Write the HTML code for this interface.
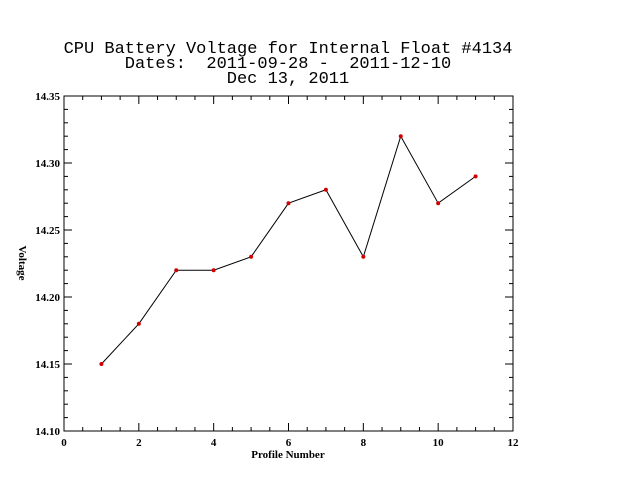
<!DOCTYPE html>
<html><head><meta charset="utf-8"><style>body{margin:0;background:#fff}svg{display:block}</style></head>
<body>
<svg id="chart" width="640" height="480" xmlns="http://www.w3.org/2000/svg" font-family="Liberation Mono, monospace">
<rect width="640" height="480" fill="#fff"/>
<text x="288" y="53" font-size="17" text-anchor="middle">CPU Battery Voltage for Internal Float #4134</text>
<text x="288" y="68" font-size="17" text-anchor="middle" xml:space="preserve">Dates:  2011-09-28 -  2011-12-10</text>
<text x="288" y="83" font-size="17" text-anchor="middle">Dec 13, 2011</text>
<text x="288" y="458" font-size="11" font-weight="bold" font-family="Liberation Serif, serif" text-anchor="middle">Profile Number</text>
<text x="0" y="0" font-size="11" font-weight="bold" font-family="Liberation Serif, serif" text-anchor="middle" transform="translate(19,263) rotate(90)">Voltage</text>
<g id="axes"></g>
<g id="marks"></g>
</svg>
<script>
const xs=[1,2,3,4,5,6,7,8,9,10,11];
const volts=[14.15,14.18,14.22,14.22,14.23,14.27,14.28,14.23,14.32,14.27,14.29];
const xTicks=[0,2,4,6,8,10,12];
const yTicks=[14.10,14.15,14.20,14.25,14.30,14.35];
const L=64,R=513,T=96,B=431;
const sx=v=>L+(v-0)/12*(R-L);
const sy=v=>B-(v-14.10)/0.25*(B-T);
const NS='http://www.w3.org/2000/svg';
const ax=document.getElementById('axes'),mk=document.getElementById('marks');
function el(tag,attrs,parent,txt){const e=document.createElementNS(NS,tag);for(const k in attrs)e.setAttribute(k,attrs[k]);if(txt!==undefined)e.textContent=txt;parent.appendChild(e);return e;}
const frame=el('rect',{x:L,y:T,width:R-L,height:B-T,fill:'none',stroke:'#000','stroke-width':1},ax);


for(let v=0;v<=12.0001;v+=0.5){
  const major=Math.abs(v/2-Math.round(v/2))<1e-6;const len=major?8:4;const x=sx(v);
  el('line',{x1:x,x2:x,y1:B,y2:B-len,stroke:'#000'},ax);
  el('line',{x1:x,x2:x,y1:T,y2:T+len,stroke:'#000'},ax);
}
xTicks.forEach(v=>{const t=el('text',{x:sx(v),y:B+15,'font-size':11,'font-weight':'bold','font-family':'Liberation Serif, serif','text-anchor':'middle'},ax,String(v));

});
for(let i=0;i<=25;i++){
  const v=14.10+i*0.01;const major=i%5===0;const len=major?8:4;const y=sy(v);
  el('line',{x1:L,x2:L+len,y1:y,y2:y,stroke:'#000'},ax);
  el('line',{x1:R,x2:R-len,y1:y,y2:y,stroke:'#000'},ax);
}
yTicks.forEach(v=>{const t=el('text',{x:L-4,y:sy(v)+4,'font-size':11,'font-weight':'bold','font-family':'Liberation Serif, serif','text-anchor':'end'},ax,v.toFixed(2));

});
const line=el('polyline',{points:xs.map((x,i)=>sx(x)+','+sy(volts[i])).join(' '),fill:'none',stroke:'#000','stroke-width':1},mk);


xs.forEach((x,i)=>{const c=el('circle',{cx:sx(x),cy:sy(volts[i]),r:2,fill:'#d00000'},mk);

});
</script>
</body></html>
